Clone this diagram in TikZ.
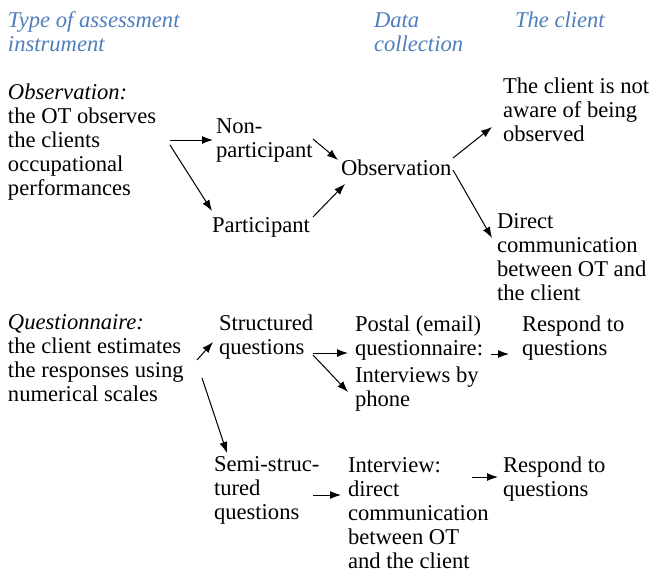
\documentclass[tikz,border=0pt]{standalone}
\usepackage{fontspec}
\setmainfont{Liberation Serif}
\usetikzlibrary{arrows.meta,calc}
\definecolor{hdrblue}{RGB}{79,126,189}
\tikzset{
  txt/.style={anchor=base west, inner sep=0pt, outer sep=0pt, align=left,
    font=\fontsize{22.6}{24}\selectfont},
  hdr/.style={txt, text=hdrblue, font=\fontsize{22.6}{24}\selectfont\itshape},
  arr/.style={-{Latex[length=11pt,width=8pt]}, line width=1pt},
}
\begin{document}
\begin{tikzpicture}[x=1pt,y=-1pt]
\useasboundingbox (0,0) rectangle (654,573);
% headers (positions are the baseline of the last line)
\node[hdr] (hT) at (8,51) {Type of assessment\\instrument};
\node[hdr] (hD) at (374,51) {Data\\collection};
\node[hdr] (hC) at (515,27) {The client};
% observation part
\node[txt] (obsL) at (8,195) {\textit{Observation:}\\the OT observes\\the clients\\occupational\\performances};
\node[txt] (nonp) at (216,157) {Non-\\participant};
\node[txt] (part) at (212,232) {Participant};
\node[txt] (obs) at (341,175) {Observation};
\node[txt] (unaware) at (503,141) {The client is not\\aware of being\\observed};
\node[txt] (direct) at (497,300) {Direct\\communication\\between OT and\\the client};
% questionnaire part
\node[txt] (quest) at (8,401) {\textit{Questionnaire:}\\the client estimates\\the responses using\\numerical scales};
\node[txt] (struct) at (219,354) {Structured\\questions};
\node[txt] (postal) at (355,355) {Postal (email)\\questionnaire:};
\node[txt] (phone) at (355,406) {Interviews by\\phone};
\node[txt] (resp1) at (522,355) {Respond to\\questions};
\node[txt] (semi) at (214,519) {Semi-struc-\\tured\\questions};
\node[txt] (interview) at (348,568) {Interview:\\direct\\communication\\between OT\\and the client};
\node[txt] (resp2) at (503,496) {Respond to\\questions};
% connectors
\draw[arr] ($(obsL.base west)+(162,-55)$) -- ($(nonp.base west)+(-3,-17)$);
\draw[arr] ($(obsL.base west)+(162,-50)$) -- ($(part.base west)+(0,-21)$);
\draw[arr] ($(nonp.base west)+(97,-18)$) -- ($(obs.base west)+(-3,-15)$);
\draw[arr] ($(part.base west)+(101,-15)$) -- ($(obs.base west)+(4,9)$);
\draw[arr] ($(obs.base west)+(112,-17)$) -- ($(unaware.base west)+(-11,-14)$);
\draw[arr] ($(obs.base west)+(112,-5)$) -- ($(direct.base west)+(-5,-62)$);
\draw[arr] ($(quest.base west)+(189,-41)$) -- ($(struct.base west)+(-6,-12)$);
\draw[arr] ($(quest.base west)+(194,-23)$) -- ($(semi.base west)+(13,-66)$);
\draw[arr] ($(struct.base west)+(94,-1)$) -- ($(postal.base west)+(-7,-2)$);
\draw[arr] ($(struct.base west)+(94,1)$) -- ($(phone.base west)+(-7,-14)$);
\draw[arr] ($(postal.base west)+(136,-1)$) -- ($(resp1.base west)+(-13,-1)$);
\draw[arr] ($(semi.base west)+(99,-24)$) -- ($(interview.base west)+(-7,-73)$);
\draw[arr] ($(interview.base west)+(124,-91)$) -- ($(resp2.base west)+(-5,-19)$);
\end{tikzpicture}
\end{document}
